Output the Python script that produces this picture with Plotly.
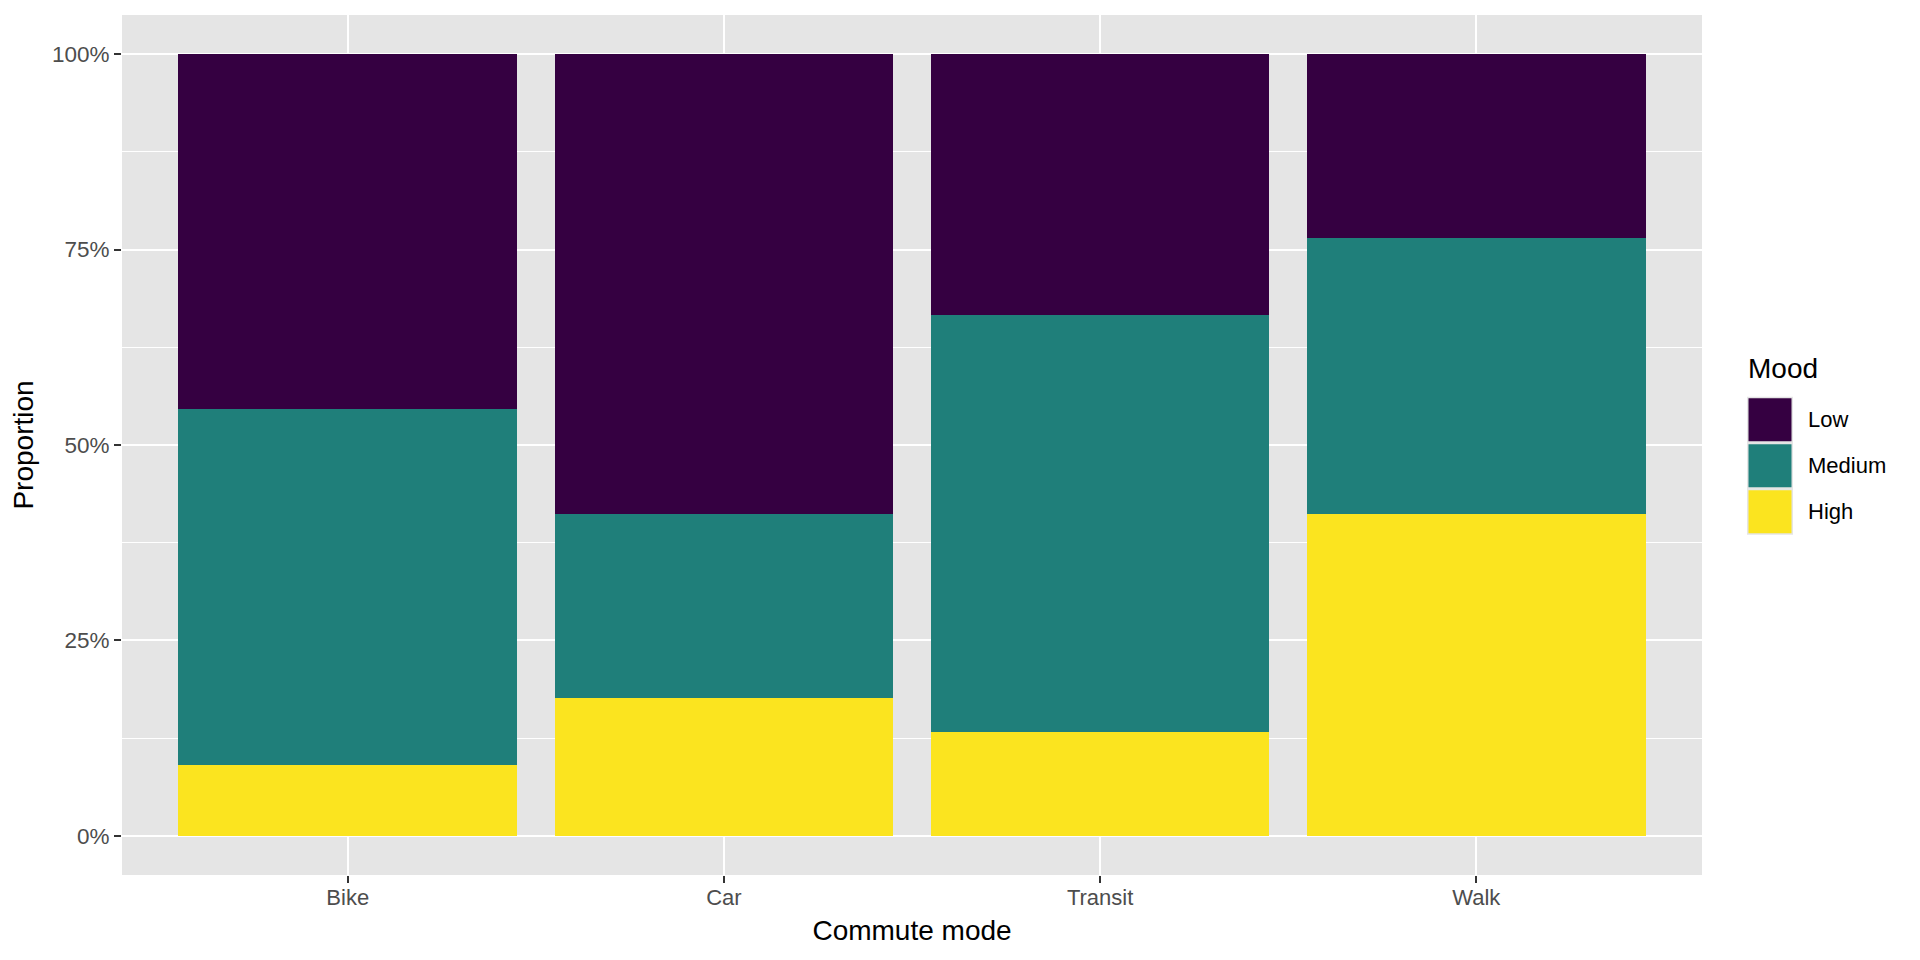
import plotly.graph_objects as go

# Data (proportions within each commute mode)
modes = ["Bike", "Car", "Transit", "Walk"]
moods = ["Low", "Medium", "High"]
low = [5/11, 10/17, 5/15, 4/17]
medium = [5/11, 4/17, 8/15, 6/17]
high = [1/11, 3/17, 2/15, 7/17]
colors = {"Low": "#350041", "Medium": "#1F7F7A", "High": "#FBE41F"}
y_ticks = [0, 0.25, 0.5, 0.75, 1.0]
y_tick_labels = ["0%", "25%", "50%", "75%", "100%"]

W, H = 1920, 960
OFF = 8  # page body margin offset
# desired panel edges in page pixels
L, R, T, B = 122, 1702, 15, 875.5
PANEL_BG = "#E5E5E5"

fig = go.Figure()
series = {"Low": low, "Medium": medium, "High": high}
for m in ["High", "Medium", "Low"]:
    fig.add_trace(go.Bar(x=list(range(len(modes))), y=series[m], name=m,
                         marker=dict(color=colors[m], line=dict(width=0)),
                         width=0.9, showlegend=False))

font_family = "Liberation Sans, Arial, Helvetica, sans-serif"

fig.update_layout(
    width=W, height=H, barmode="stack", bargap=0,
    paper_bgcolor="white", plot_bgcolor=PANEL_BG,
    margin=dict(l=L - OFF, r=W - (R - OFF), t=T - OFF, b=H - (B - OFF), pad=0),
    font=dict(family=font_family, size=22, color="#4D4D4D"),
)
fig.update_xaxes(
    range=[-0.6, len(modes) - 0.4], tickmode="array",
    tickvals=list(range(len(modes))), ticktext=modes,
    showgrid=True, gridcolor="white", gridwidth=2.2,
    ticks="outside", ticklen=7, tickwidth=2.2, tickcolor="#333333",
    tickfont=dict(size=22, color="#4D4D4D"), ticklabelstandoff=-4,
    zeroline=False, showline=False,
    title=dict(text="Commute mode", font=dict(size=28, color="black"), standoff=10),
)
fig.update_yaxes(
    range=[-0.05, 1.05], tickmode="array", tickvals=y_ticks, ticktext=y_tick_labels,
    showgrid=True, gridcolor="white", gridwidth=2.2,
    minor=dict(tick0=0.125, dtick=0.25, showgrid=True, gridcolor="white", gridwidth=1.1, ticks=""),
    ticks="outside", ticklen=7, tickwidth=2.2, tickcolor="#333333",
    tickfont=dict(size=22.5, color="#4D4D4D"),
    zeroline=False, showline=False,
    title=dict(text="Proportion", font=dict(size=28, color="black"), standoff=12),
)

# Custom ggplot-style legend (coordinates given in page pixels)
def px_x(px):
    return (px - L) / (R - L)

def px_y(py):
    return (B - py) / (B - T)

fig.add_annotation(x=px_x(1746), y=px_y(369), xref="paper", yref="paper",
                   text="Mood", showarrow=False, xanchor="left", yanchor="middle",
                   font=dict(size=28, color="black", family=font_family))
key_x0, key_x1 = 1747, 1793
key_tops = [397, 443, 489]
key_h = 46
fig.add_shape(type="rect", xref="paper", yref="paper",
              x0=px_x(key_x0), x1=px_x(key_x1), y0=px_y(key_tops[0]), y1=px_y(key_tops[-1] + key_h),
              fillcolor=PANEL_BG, line=dict(width=0), layer="above")
for i, m in enumerate(moods):
    t0 = key_tops[i]
    fig.add_shape(type="rect", xref="paper", yref="paper",
                  x0=px_x(key_x0 + 1.5), x1=px_x(key_x1 - 1.5),
                  y0=px_y(t0 + 1.5), y1=px_y(t0 + key_h - 1.5),
                  fillcolor=colors[m], line=dict(width=0), layer="above")
    fig.add_annotation(x=px_x(1806), y=px_y(t0 + key_h / 2), xref="paper", yref="paper",
                       text=m, showarrow=False, xanchor="left", yanchor="middle",
                       font=dict(size=22, color="black", family=font_family))

fig.write_html("out.html")
